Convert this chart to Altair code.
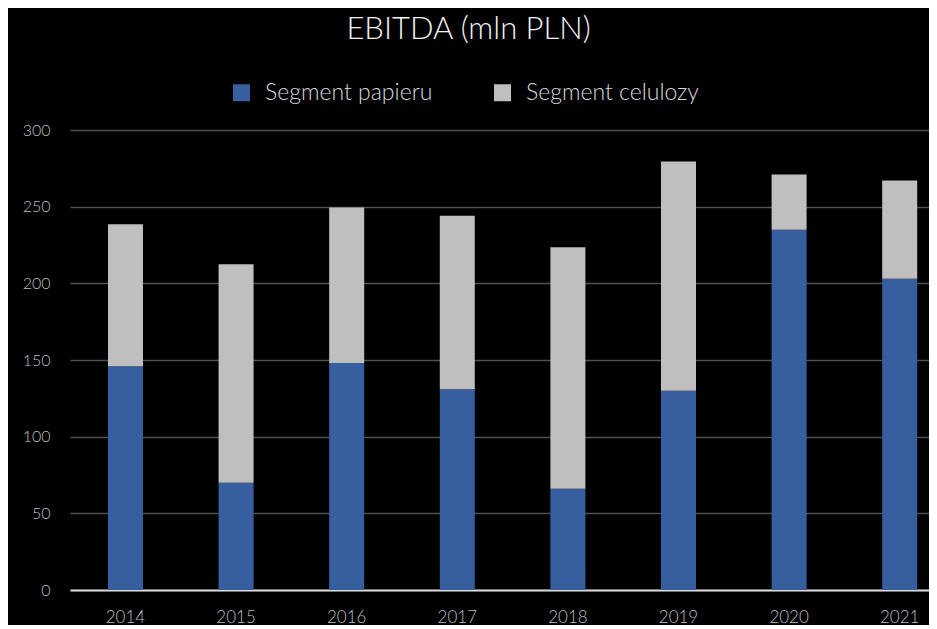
import altair as alt
import pandas as pd

years = ["2014", "2015", "2016", "2017", "2018", "2019", "2020", "2021"]
papier = [146, 70, 148, 131, 66, 130, 235, 203]
celuloza = [92.5, 142.5, 101.5, 113, 157.5, 149.5, 36, 64]
series = ["Segment papieru", "Segment celulozy"]
colors = ["#375E9E", "#BFBFBF"]
y_ticks = [0, 50, 100, 150, 200, 250, 300]

rows = []
for i, yr in enumerate(years):
    rows.append({"year": yr, "segment": series[0], "value": papier[i], "order": 0})
    rows.append({"year": yr, "segment": series[1], "value": celuloza[i], "order": 1})
df = pd.DataFrame(rows)

FONT = "Lato"

chart = (
    alt.Chart(df)
    .mark_bar()
    .encode(
        x=alt.X(
            "year:N",
            sort=years,
            title=None,
            scale=alt.Scale(paddingInner=0.6835, paddingOuter=0.225, align=0.763),
            axis=alt.Axis(
                labelAngle=0, labelPadding=19, labelFontSize=17, labelColor="#bfbfbf",
                labelFont=FONT, labelFontWeight=300,
                domainColor="#d9d9d9", domainWidth=2, ticks=False, grid=False,
            ),
        ),
        y=alt.Y(
            "value:Q",
            stack="zero",
            title=None,
            scale=alt.Scale(domain=[0, 300], nice=False),
            axis=alt.Axis(
                values=y_ticks, domain=False, ticks=False, labelPadding=20,
                labelFontSize=16, labelColor="#bfbfbf", labelFont=FONT, labelFontWeight=300,
                gridColor="#505050", gridWidth=1.5, minExtent=62,
            ),
        ),
        color=alt.Color(
            "segment:N",
            scale=alt.Scale(domain=series, range=colors),
            legend=alt.Legend(
                orient="none", legendX=160, legendY=-49, direction="horizontal",
                title=None, symbolType="square", symbolSize=289, symbolStrokeWidth=0,
                labelFontSize=23, labelColor="#d9d9d9", labelFont=FONT, labelFontWeight=300,
                columnPadding=58, labelOffset=12, padding=0, labelLimit=400,
            ),
        ),
        order=alt.Order("order:Q"),
    )
    .properties(
        width=859,
        height=460,
        padding={"left": 0, "top": 6, "right": 0, "bottom": 0},
        title=alt.TitleParams(
            "EBITDA (mln PLN)", anchor="middle", frame="bounds", fontSize=31,
            font=FONT, fontWeight=300, color="#f2f2f2", offset=35,
        ),
    )
    .configure(background="#000000")
    .configure_view(stroke=None)
)

chart.save("out.html", embed_options={"renderer": "svg", "actions": False})
